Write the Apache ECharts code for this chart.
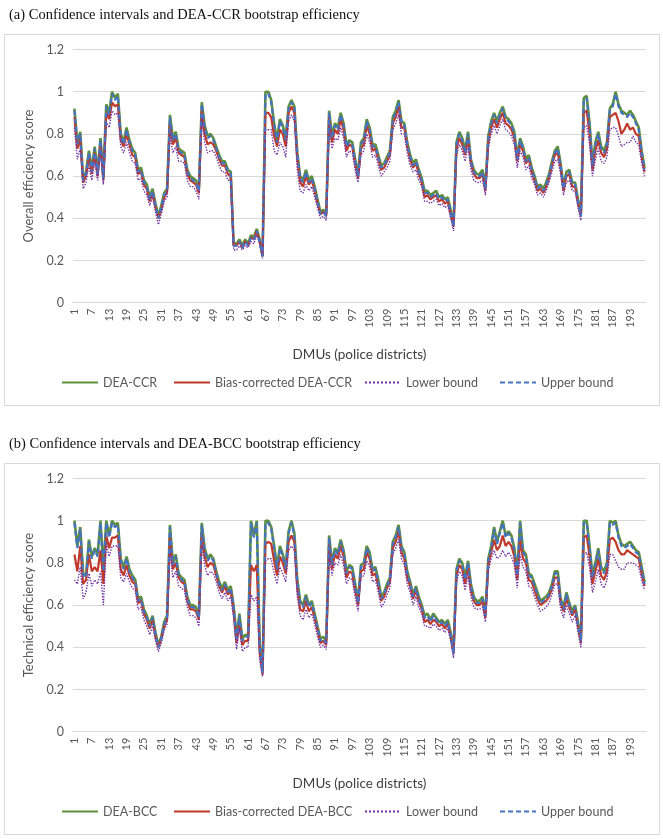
<!DOCTYPE html>
<html>
<head>
<meta charset="utf-8">
<script src="https://cdn.jsdelivr.net/npm/echarts@6/dist/echarts.min.js"></script>
<style>
html,body{margin:0;padding:0;background:#fff;}
#c{width:663px;height:839px;}
</style>
</head>
<body>
<div id="c"></div>
<script>
// ---------- DATA ----------
var dmuCount = 198;
var categories = [];
for (var k = 1; k <= dmuCount; k++) categories.push(String(k));

var yTicks = [0, 0.2, 0.4, 0.6, 0.8, 1, 1.2];

// Panel (a): DEA-CCR
var ccrScore = [0.92,0.76,0.81,0.59,0.62,0.72,0.63,0.74,0.62,0.78,0.60,0.94,0.90,1.00,0.97,0.99,0.80,0.76,0.83,0.77,
0.73,0.71,0.63,0.64,0.58,0.56,0.50,0.54,0.47,0.41,0.46,0.52,0.54,0.89,0.78,0.81,0.73,0.72,0.71,0.63,
0.60,0.59,0.58,0.54,0.95,0.84,0.79,0.80,0.78,0.74,0.70,0.67,0.67,0.63,0.62,0.28,0.28,0.30,0.27,0.30,
0.28,0.32,0.31,0.35,0.30,0.22,1.00,1.00,0.96,0.85,0.77,0.87,0.84,0.78,0.93,0.96,0.93,0.71,0.60,0.58,
0.63,0.58,0.60,0.55,0.49,0.43,0.44,0.42,0.91,0.79,0.85,0.83,0.90,0.85,0.75,0.77,0.76,0.68,0.61,0.76,
0.78,0.87,0.83,0.75,0.75,0.70,0.65,0.66,0.69,0.72,0.88,0.91,0.96,0.86,0.85,0.76,0.70,0.66,0.68,0.63,
0.59,0.53,0.53,0.51,0.52,0.53,0.50,0.51,0.49,0.50,0.44,0.37,0.76,0.81,0.78,0.72,0.81,0.68,0.63,0.61,
0.61,0.63,0.55,0.79,0.86,0.90,0.86,0.90,0.93,0.88,0.87,0.85,0.81,0.69,0.78,0.74,0.68,0.70,0.64,0.60,
0.55,0.56,0.54,0.57,0.61,0.67,0.72,0.74,0.66,0.55,0.62,0.63,0.57,0.57,0.49,0.42,0.97,0.98,0.85,0.66,
0.76,0.81,0.74,0.72,0.76,0.92,0.94,1.00,0.94,0.91,0.90,0.89,0.91,0.89,0.86,0.83,0.72,0.64];

var ccrBiasCorrected = [0.88,0.73,0.78,0.57,0.60,0.69,0.61,0.71,0.60,0.75,0.58,0.90,0.87,0.95,0.93,0.94,0.77,0.74,0.80,0.75,
0.70,0.69,0.61,0.62,0.56,0.54,0.48,0.52,0.45,0.40,0.44,0.50,0.52,0.85,0.75,0.78,0.71,0.70,0.69,0.61,
0.58,0.57,0.56,0.52,0.91,0.80,0.75,0.76,0.75,0.72,0.68,0.65,0.65,0.61,0.60,0.27,0.27,0.29,0.26,0.29,
0.27,0.31,0.30,0.34,0.29,0.22,0.90,0.90,0.88,0.79,0.74,0.82,0.80,0.74,0.90,0.93,0.90,0.68,0.57,0.55,
0.60,0.56,0.58,0.53,0.47,0.42,0.43,0.41,0.88,0.76,0.82,0.80,0.87,0.82,0.72,0.75,0.74,0.66,0.59,0.73,
0.75,0.84,0.80,0.72,0.73,0.68,0.63,0.64,0.67,0.70,0.85,0.88,0.93,0.83,0.83,0.74,0.68,0.64,0.66,0.61,
0.57,0.50,0.51,0.49,0.50,0.51,0.48,0.49,0.47,0.48,0.42,0.36,0.73,0.78,0.75,0.70,0.78,0.66,0.61,0.59,
0.59,0.61,0.53,0.76,0.83,0.87,0.83,0.87,0.90,0.85,0.84,0.82,0.78,0.67,0.75,0.72,0.66,0.68,0.62,0.58,
0.53,0.54,0.52,0.55,0.59,0.65,0.70,0.71,0.64,0.53,0.60,0.61,0.55,0.55,0.47,0.41,0.90,0.91,0.80,0.63,
0.72,0.77,0.71,0.69,0.73,0.88,0.89,0.90,0.86,0.80,0.82,0.85,0.82,0.83,0.80,0.79,0.69,0.62];

var ccrLower = [0.83,0.68,0.73,0.54,0.57,0.65,0.58,0.67,0.58,0.71,0.56,0.86,0.83,0.91,0.89,0.90,0.74,0.71,0.76,0.71,
0.67,0.66,0.58,0.59,0.53,0.51,0.46,0.50,0.43,0.37,0.42,0.48,0.50,0.80,0.71,0.74,0.67,0.67,0.66,0.58,
0.55,0.55,0.53,0.49,0.87,0.76,0.71,0.72,0.72,0.69,0.65,0.62,0.62,0.58,0.58,0.25,0.25,0.27,0.25,0.27,
0.26,0.29,0.28,0.32,0.28,0.21,0.82,0.82,0.82,0.72,0.70,0.76,0.74,0.69,0.86,0.89,0.86,0.63,0.53,0.52,
0.56,0.53,0.55,0.50,0.45,0.40,0.41,0.39,0.84,0.73,0.78,0.77,0.83,0.78,0.69,0.72,0.71,0.63,0.57,0.70,
0.72,0.80,0.76,0.69,0.70,0.65,0.60,0.62,0.64,0.67,0.82,0.85,0.89,0.80,0.80,0.71,0.65,0.62,0.63,0.58,
0.55,0.48,0.48,0.47,0.48,0.49,0.46,0.47,0.45,0.46,0.40,0.34,0.70,0.75,0.72,0.67,0.74,0.63,0.58,0.57,
0.57,0.58,0.51,0.73,0.80,0.84,0.80,0.84,0.87,0.82,0.81,0.79,0.75,0.64,0.72,0.69,0.63,0.65,0.59,0.56,
0.51,0.52,0.50,0.53,0.57,0.62,0.67,0.68,0.61,0.51,0.57,0.58,0.53,0.53,0.45,0.39,0.83,0.84,0.75,0.60,
0.68,0.73,0.67,0.66,0.69,0.82,0.83,0.83,0.79,0.74,0.75,0.76,0.76,0.79,0.76,0.75,0.66,0.60];

var ccrUpper = [0.91,0.75,0.80,0.58,0.61,0.71,0.62,0.73,0.61,0.77,0.59,0.93,0.89,0.99,0.96,0.98,0.79,0.75,0.82,0.76,
0.72,0.70,0.62,0.63,0.57,0.55,0.49,0.53,0.46,0.40,0.45,0.51,0.53,0.88,0.77,0.80,0.72,0.71,0.70,0.62,
0.59,0.58,0.57,0.53,0.94,0.83,0.78,0.79,0.77,0.73,0.69,0.66,0.66,0.62,0.61,0.27,0.27,0.29,0.26,0.29,
0.27,0.31,0.30,0.34,0.29,0.22,0.99,0.99,0.95,0.84,0.76,0.86,0.83,0.77,0.92,0.95,0.92,0.70,0.59,0.57,
0.62,0.57,0.59,0.54,0.48,0.42,0.43,0.41,0.90,0.78,0.84,0.82,0.89,0.84,0.74,0.76,0.75,0.67,0.60,0.75,
0.77,0.86,0.82,0.74,0.74,0.69,0.64,0.65,0.68,0.71,0.87,0.90,0.95,0.85,0.84,0.75,0.69,0.65,0.67,0.62,
0.58,0.52,0.52,0.50,0.51,0.52,0.49,0.50,0.48,0.49,0.43,0.36,0.75,0.80,0.77,0.71,0.80,0.67,0.62,0.60,
0.60,0.62,0.54,0.78,0.85,0.89,0.85,0.89,0.92,0.87,0.86,0.84,0.80,0.68,0.77,0.73,0.67,0.69,0.63,0.59,
0.54,0.55,0.53,0.56,0.60,0.66,0.71,0.73,0.65,0.54,0.61,0.62,0.56,0.56,0.48,0.41,0.96,0.97,0.84,0.65,
0.75,0.80,0.73,0.71,0.75,0.91,0.93,0.99,0.93,0.90,0.89,0.88,0.90,0.88,0.85,0.82,0.71,0.63];

// Panel (b): DEA-BCC
var bccScore = [1.00,0.88,0.97,0.75,0.74,0.91,0.83,0.87,0.84,1.00,0.77,1.00,0.93,1.00,0.98,0.99,0.82,0.78,0.83,0.77,
0.74,0.72,0.63,0.64,0.58,0.55,0.51,0.55,0.47,0.41,0.45,0.52,0.55,0.98,0.80,0.84,0.75,0.73,0.72,0.64,
0.60,0.60,0.59,0.55,0.99,0.87,0.82,0.84,0.82,0.76,0.71,0.68,0.71,0.67,0.69,0.60,0.45,0.56,0.44,0.46,
0.45,1.00,0.93,1.00,0.42,0.29,1.00,1.00,0.97,0.88,0.78,0.88,0.84,0.78,0.95,1.00,0.94,0.72,0.62,0.60,
0.65,0.60,0.62,0.56,0.50,0.44,0.45,0.43,0.93,0.80,0.87,0.85,0.91,0.86,0.76,0.79,0.78,0.70,0.62,0.79,
0.80,0.88,0.85,0.77,0.78,0.72,0.64,0.66,0.70,0.73,0.90,0.93,0.98,0.88,0.85,0.76,0.71,0.65,0.69,0.64,
0.60,0.55,0.56,0.53,0.56,0.54,0.52,0.53,0.51,0.53,0.47,0.38,0.77,0.82,0.80,0.73,0.81,0.70,0.64,0.62,
0.62,0.64,0.56,0.82,0.88,0.97,0.90,0.95,1.00,0.93,0.95,0.93,0.87,0.75,1.00,0.86,0.84,0.75,0.74,0.70,
0.66,0.62,0.63,0.64,0.66,0.70,0.76,0.76,0.63,0.59,0.66,0.61,0.57,0.60,0.52,0.44,1.00,1.00,0.88,0.74,
0.80,0.87,0.78,0.76,0.80,1.00,0.99,1.00,0.93,0.89,0.88,0.89,0.90,0.88,0.86,0.85,0.78,0.71];

var bccBiasCorrected = [0.84,0.76,0.88,0.70,0.72,0.84,0.76,0.78,0.76,0.86,0.70,0.93,0.87,0.92,0.92,0.93,0.77,0.74,0.79,0.74,
0.71,0.70,0.61,0.62,0.56,0.53,0.49,0.53,0.45,0.40,0.44,0.50,0.53,0.92,0.77,0.80,0.73,0.71,0.70,0.62,
0.58,0.58,0.57,0.53,0.94,0.83,0.78,0.80,0.79,0.74,0.69,0.66,0.69,0.65,0.67,0.57,0.42,0.52,0.41,0.43,
0.43,0.79,0.76,0.79,0.38,0.27,0.89,0.90,0.89,0.81,0.74,0.83,0.80,0.75,0.90,0.93,0.90,0.68,0.58,0.57,
0.62,0.57,0.59,0.54,0.48,0.42,0.43,0.41,0.89,0.77,0.84,0.82,0.88,0.83,0.73,0.76,0.75,0.67,0.60,0.76,
0.77,0.85,0.82,0.74,0.75,0.69,0.62,0.64,0.68,0.71,0.87,0.90,0.95,0.85,0.82,0.73,0.69,0.63,0.67,0.62,
0.58,0.52,0.53,0.51,0.53,0.52,0.50,0.51,0.49,0.51,0.45,0.37,0.74,0.79,0.77,0.70,0.78,0.67,0.62,0.60,
0.60,0.62,0.54,0.79,0.85,0.91,0.86,0.88,0.93,0.88,0.90,0.88,0.83,0.72,0.91,0.82,0.80,0.72,0.71,0.67,
0.63,0.60,0.61,0.62,0.64,0.68,0.73,0.73,0.61,0.57,0.63,0.59,0.55,0.58,0.50,0.42,0.92,0.93,0.83,0.70,
0.76,0.82,0.74,0.72,0.76,0.91,0.92,0.90,0.86,0.84,0.84,0.86,0.85,0.84,0.83,0.82,0.75,0.69];

var bccLower = [0.72,0.70,0.78,0.63,0.66,0.75,0.69,0.72,0.70,0.76,0.60,0.89,0.83,0.88,0.88,0.88,0.73,0.71,0.75,0.71,
0.68,0.67,0.58,0.59,0.53,0.50,0.46,0.50,0.43,0.38,0.42,0.48,0.51,0.86,0.73,0.76,0.69,0.68,0.67,0.59,
0.55,0.55,0.54,0.50,0.89,0.79,0.74,0.76,0.75,0.71,0.66,0.63,0.66,0.62,0.64,0.54,0.39,0.49,0.38,0.40,
0.40,0.65,0.62,0.64,0.34,0.26,0.81,0.82,0.82,0.75,0.70,0.78,0.75,0.71,0.86,0.88,0.86,0.64,0.55,0.53,
0.58,0.54,0.56,0.51,0.45,0.40,0.41,0.39,0.85,0.74,0.80,0.79,0.84,0.79,0.70,0.73,0.72,0.64,0.57,0.73,
0.74,0.81,0.78,0.71,0.72,0.66,0.59,0.61,0.65,0.68,0.84,0.87,0.91,0.82,0.79,0.70,0.66,0.60,0.64,0.59,
0.56,0.50,0.50,0.49,0.51,0.50,0.48,0.49,0.47,0.49,0.43,0.35,0.71,0.76,0.74,0.67,0.74,0.64,0.59,0.58,
0.58,0.59,0.52,0.76,0.82,0.86,0.82,0.83,0.86,0.83,0.85,0.83,0.79,0.68,0.84,0.78,0.76,0.69,0.68,0.64,
0.60,0.57,0.58,0.59,0.61,0.65,0.70,0.70,0.58,0.54,0.60,0.56,0.52,0.55,0.47,0.40,0.84,0.85,0.78,0.66,
0.71,0.77,0.70,0.68,0.72,0.84,0.84,0.81,0.78,0.77,0.77,0.80,0.80,0.80,0.79,0.78,0.72,0.67];

var bccUpper = [0.99,0.87,0.96,0.74,0.73,0.90,0.82,0.86,0.83,0.99,0.76,0.99,0.92,0.99,0.97,0.98,0.81,0.77,0.82,0.76,
0.73,0.71,0.62,0.63,0.57,0.54,0.50,0.54,0.46,0.40,0.44,0.51,0.54,0.97,0.79,0.83,0.74,0.72,0.71,0.63,
0.59,0.59,0.58,0.54,0.98,0.86,0.81,0.83,0.81,0.75,0.70,0.67,0.70,0.66,0.68,0.59,0.44,0.55,0.43,0.45,
0.45,0.99,0.92,0.99,0.41,0.28,0.99,0.99,0.96,0.87,0.77,0.87,0.83,0.77,0.94,0.99,0.93,0.71,0.61,0.59,
0.64,0.59,0.61,0.55,0.49,0.43,0.44,0.42,0.92,0.79,0.86,0.84,0.90,0.85,0.75,0.78,0.77,0.69,0.61,0.78,
0.79,0.87,0.84,0.76,0.77,0.71,0.63,0.65,0.69,0.72,0.89,0.92,0.97,0.87,0.84,0.75,0.70,0.64,0.68,0.63,
0.59,0.54,0.55,0.52,0.55,0.53,0.51,0.52,0.50,0.52,0.46,0.37,0.76,0.81,0.79,0.72,0.80,0.69,0.63,0.61,
0.61,0.63,0.55,0.81,0.87,0.96,0.89,0.94,0.99,0.92,0.94,0.92,0.86,0.74,0.99,0.85,0.83,0.74,0.73,0.69,
0.65,0.61,0.62,0.63,0.65,0.69,0.75,0.75,0.62,0.58,0.65,0.60,0.56,0.59,0.51,0.43,0.99,0.99,0.87,0.73,
0.79,0.86,0.77,0.75,0.79,0.99,0.98,0.99,0.92,0.88,0.87,0.88,0.89,0.87,0.85,0.84,0.77,0.70];

var panelTitles = ['(a) Confidence intervals and DEA-CCR bootstrap efficiency',
                   '(b) Confidence intervals and DEA-BCC bootstrap efficiency'];
var yNames = ['Overall efficiency score', 'Technical efficiency score'];
var xName = 'DMUs (police districts)';
var seriesNamesA = ['DEA-CCR', 'Bias-corrected DEA-CCR', 'Lower bound', 'Upper bound'];
var seriesNamesB = ['DEA-BCC', 'Bias-corrected DEA-BCC', 'Lower bound ', 'Upper bound '];

// ---------- CHART ----------
var FONT = 'Lato, "Open Sans", sans-serif';
var TXT = '#595959';
var GRIDC = '#d9d9d9';
var OFF = 429;            // vertical offset of panel (b)
var colors = ['#5e8f3c', '#c0392b', '#7030a0', '#4472c4'];
var styles = [
  {width: 2.6, type: 'solid'},
  {width: 2.2, type: 'solid'},
  {width: 1.4, type: 'dotted'},
  {width: 2.2, type: [5, 3]}
];

function mkX(i) {
  return {
    type: 'category', gridIndex: i, data: categories, boundaryGap: true,
    name: xName, nameLocation: 'middle', nameGap: 45,
    nameTextStyle: {fontFamily: FONT, fontSize: 13.5, color: '#404040'},
    axisLine: {show: true, lineStyle: {color: GRIDC, width: 1}},
    axisTick: {show: false},
    axisLabel: {interval: 5, rotate: 90, fontFamily: FONT, fontSize: 11, color: TXT, margin: 6},
    splitLine: {show: false}
  };
}
function mkY(i) {
  return {
    type: 'value', gridIndex: i, min: yTicks[0], max: yTicks[yTicks.length - 1], interval: 0.2,
    name: yNames[i], nameLocation: 'middle', nameGap: 35, nameRotate: 90,
    nameTextStyle: {fontFamily: FONT, fontSize: 13, color: TXT},
    axisLine: {show: false}, axisTick: {show: false},
    axisLabel: {fontFamily: FONT, fontSize: 12.5, color: TXT, margin: 9},
    splitLine: {lineStyle: {color: GRIDC, width: 1}}
  };
}

var dataA = [ccrScore, ccrBiasCorrected, ccrLower, ccrUpper];
var dataB = [bccScore, bccBiasCorrected, bccLower, bccUpper];
var series = [];
var legends = [];
var legendLefts = [61, 173, 364, 499];
[ [seriesNamesA, dataA], [seriesNamesB, dataB] ].forEach(function (p, gi) {
  p[0].forEach(function (nm, si) {
    series.push({
      name: nm, type: 'line', xAxisIndex: gi, yAxisIndex: gi,
      data: p[1][si], symbol: 'none', smooth: false, animation: false,
      color: colors[si],
      lineStyle: {color: colors[si], width: styles[si].width, type: styles[si].type},
      z: 2 + si
    });
    legends.push({
      data: [nm], left: legendLefts[si], top: 376 + gi * OFF,
      itemWidth: 36, itemHeight: 12, itemGap: 0, padding: 0,
      itemStyle: {opacity: 0},
      textStyle: {fontFamily: FONT, fontSize: 12.5, color: TXT, padding: [0, 0, 0, 0]},
      selectedMode: false
    });
  });
});

var chart = echarts.init(document.getElementById('c'), null, {renderer: 'canvas'});
chart.setOption({
  backgroundColor: '#ffffff',
  animation: false,
  title: [
    {text: panelTitles[0], left: 4, top: 3, textStyle: {fontFamily: '"Liberation Serif", serif', fontSize: 14.5, fontWeight: 'normal', color: '#111'}},
    {text: panelTitles[1], left: 4, top: 3 + OFF, textStyle: {fontFamily: '"Liberation Serif", serif', fontSize: 14.5, fontWeight: 'normal', color: '#111'}}
  ],
  graphic: [
    {type: 'rect', shape: {x: 4.5, y: 34.5, width: 655, height: 371}, style: {fill: 'none', stroke: GRIDC, lineWidth: 1}, silent: true},
    {type: 'rect', shape: {x: 4.5, y: 34.5 + OFF, width: 655, height: 371}, style: {fill: 'none', stroke: GRIDC, lineWidth: 1}, silent: true}
  ],
  grid: [
    {left: 73, right: 17, top: 49.5, height: 253.2, containLabel: false},
    {left: 73, right: 17, top: 49.5 + OFF, height: 253.2, containLabel: false}
  ],
  xAxis: [mkX(0), mkX(1)],
  yAxis: [mkY(0), mkY(1)],
  legend: legends,
  series: series
});
</script>
</body>
</html>
